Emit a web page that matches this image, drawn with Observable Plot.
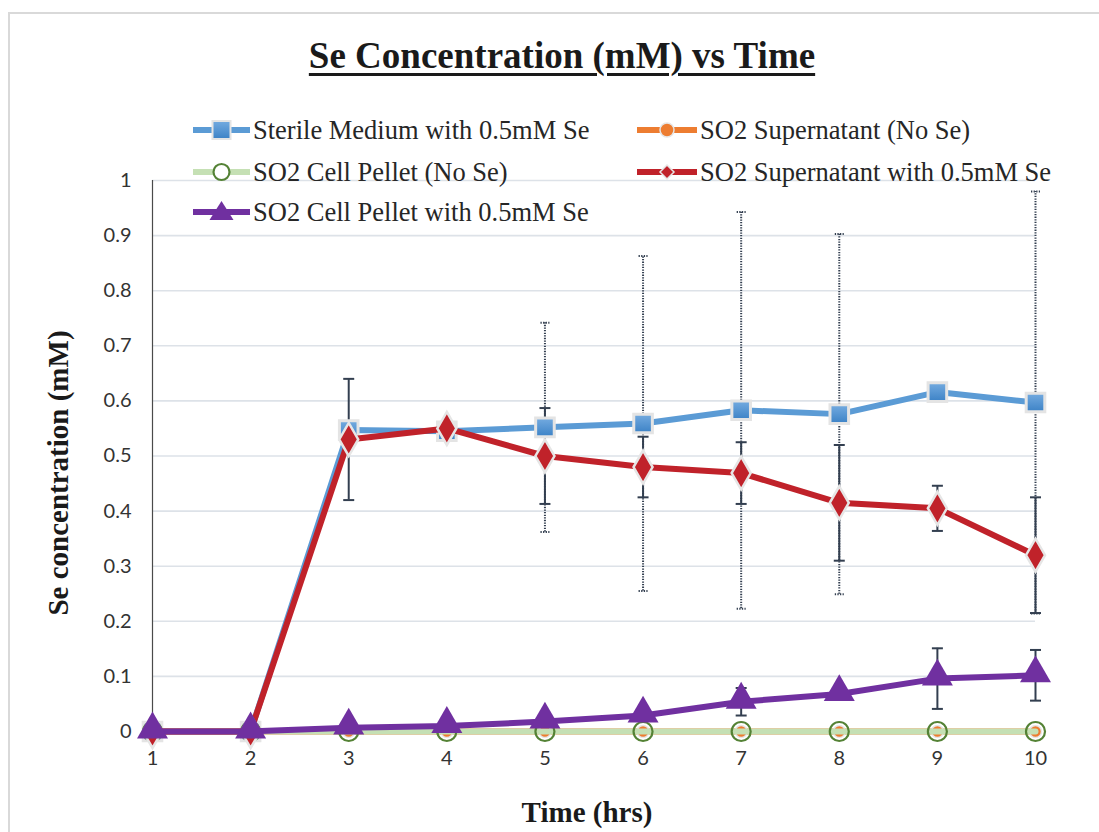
<!DOCTYPE html>
<html>
<head>
<meta charset="utf-8">
<script src="https://cdn.jsdelivr.net/npm/d3@7"></script>
<script src="https://cdn.jsdelivr.net/npm/@observablehq/plot@0.6"></script>
<style>
  html, body { margin: 0; padding: 0; background: #fff; }
  body { width: 1099px; height: 832px; position: relative; overflow: hidden; font-family: "Liberation Serif", serif; }
  #frame { position: absolute; left: 8px; top: 12px; width: 1200px; height: 900px; border-left: 2px solid #d9d9d9; border-top: 2px solid #d9d9d9; box-sizing: border-box; }
  #chart { position: absolute; left: 0; top: 0; }
  #title { position: absolute; left: 0; width: 1124px; top: 34px; text-align: center; font-family: "Liberation Serif", serif; font-weight: bold; font-size: 37px; line-height: 44px; color: #1a1a1a; text-decoration: underline; text-decoration-thickness: 3px; text-underline-offset: 5px; }
  .leg { position: absolute; display: flex; align-items: center; font-family: "Liberation Serif", serif; font-size: 26.5px; color: #262626; white-space: nowrap; }
  .leg svg { margin-right: 3px; }
  .axt { position: absolute; font-family: "Liberation Serif", serif; font-weight: bold; font-size: 29px; line-height: 34px; color: #1a1a1a; white-space: nowrap; }
</style>
</head>
<body>
<svg width="0" height="0" style="position:absolute">
  <defs>
    <linearGradient id="gBlue" x1="0" y1="0" x2="0" y2="1">
      <stop offset="0" stop-color="#74abe0"/>
      <stop offset="1" stop-color="#3c82c6"/>
    </linearGradient>
  </defs>
</svg>
<div id="frame"></div>
<div id="chart"></div>
<div id="title">Se Concentration (mM) vs Time</div>
<div id="legend"></div>
<div class="axt" id="ytitle">Se concentration (mM)</div>
<div class="axt" id="xtitle">Time (hrs)</div>
<script>
// ---- data ----
const hours = [1, 2, 3, 4, 5, 6, 7, 8, 9, 10];
const seriesNames = [
  "Sterile Medium with 0.5mM Se",
  "SO2 Supernatant (No Se)",
  "SO2 Cell Pellet (No Se)",
  "SO2 Supernatant with 0.5mM Se",
  "SO2 Cell Pellet with 0.5mM Se"
];
const sterile    = [0, 0, 0.547, 0.545, 0.552, 0.559, 0.583, 0.576, 0.616, 0.597];
const sterileErr = [null, null, null, null, 0.19, 0.304, 0.36, 0.327, null, 0.383];
const supNoSe    = [0, 0, 0, 0, 0, 0, 0, 0, 0, 0];
const pelNoSe    = [0, 0, 0, 0, 0, 0, 0, 0, 0, 0];
const supSe      = [0, 0, 0.53, 0.55, 0.50, 0.48, 0.469, 0.415, 0.405, 0.32];
const supSeErr   = [null, null, 0.11, null, 0.087, 0.055, 0.056, 0.105, 0.041, 0.105];
const pelSe      = [0, 0, 0.007, 0.01, 0.018, 0.029, 0.054, 0.068, 0.096, 0.102];
const pelSeErr   = [null, null, null, null, null, null, 0.025, null, 0.055, 0.046];
const yTicks = [0, 0.1, 0.2, 0.3, 0.4, 0.5, 0.6, 0.7, 0.8, 0.9, 1];
const xTicks = hours;

// ---- styles ----
const C = {
  blue: "#5b9bd5", orange: "#ed7d31", green: "#c5e0b4", greenMk: "#548235",
  red: "#c0222a", purple: "#7030a0", err: "#333f50"
};

const rows = vals => hours.map((h, i) => ({x: h, y: vals[i]}));
const errRows = (vals, errs) => hours.map((h, i) => errs[i] == null ? null :
  ({x: h, lo: vals[i] - errs[i], hi: vals[i] + errs[i]})).filter(d => d);
const capRows = er => er.flatMap(d => [{x: d.x, y: d.lo}, {x: d.x, y: d.hi}]);
const hcap = w => ({draw(ctx) { ctx.moveTo(-w / 2, 0); ctx.lineTo(w / 2, 0); }});

const eBlue = errRows(sterile, sterileErr);
const eRed = errRows(supSe, supSeErr);
const ePur = errRows(pelSe, pelSeErr);
const eSolid = eRed.concat(ePur);

const W = 1099, H = 832;
const chart = Plot.plot({
  width: W, height: H,
  marginLeft: 152, marginRight: 64, marginTop: 180, marginBottom: 101,
  x: {domain: [1, 10], ticks: xTicks, tickSize: 0, tickPadding: 19, tickFormat: d => String(d), label: null},
  y: {domain: [0, 1], ticks: yTicks, tickSize: 0, tickPadding: 21, tickFormat: d => d === 0 ? "0" : d === 1 ? "1" : d.toFixed(1), label: null},
  style: {fontFamily: "Lato, 'Open Sans', sans-serif", fontSize: "20px", color: "#333333", background: "transparent", overflow: "visible"},
  marks: [
    Plot.ruleY(yTicks, {stroke: "#dde2e8", strokeWidth: 1.6}),
    Plot.ruleX([xTicks[0]], {y1: yTicks[0], y2: yTicks[yTicks.length - 1], stroke: "#4a4a4a", strokeWidth: 1.2}),
    // dotted error bars (sterile medium)
    Plot.ruleX(eBlue, {x: "x", y1: "lo", y2: "hi", stroke: C.err, strokeWidth: 2, strokeDasharray: "1.3,1.3"}),
    Plot.dot(capRows(eBlue), {x: "x", y: "y", symbol: hcap(9), stroke: C.err, strokeWidth: 2, strokeDasharray: "1.3,1.3", r: 3}),
    // solid error bars
    Plot.ruleX(eSolid, {x: "x", y1: "lo", y2: "hi", stroke: C.err, strokeWidth: 2}),
    Plot.dot(capRows(eSolid), {x: "x", y: "y", symbol: hcap(11), stroke: C.err, strokeWidth: 2, r: 3}),
    // series 1: sterile
    Plot.line(rows(sterile), {x: "x", y: "y", stroke: C.blue, strokeWidth: 6, strokeLinejoin: "round"}),
    Plot.dot(rows(sterile), {x: "x", y: "y", symbol: "square", r: 10.5, fill: "url(#gBlue)", stroke: "#e4e4e4", strokeWidth: 3}),
    // series 2: supernatant no Se
    Plot.line(rows(supNoSe), {x: "x", y: "y", stroke: C.orange, strokeWidth: 6}),
    Plot.dot(rows(supNoSe), {x: "x", y: "y", r: 6, fill: C.orange, stroke: "#e6e6e6", strokeWidth: 1.5}),
    // series 3: cell pellet no Se
    Plot.line(rows(pelNoSe), {x: "x", y: "y", stroke: C.green, strokeWidth: 6}),
    Plot.dot(rows(pelNoSe), {x: "x", y: "y", r: 9.5, fill: "none", stroke: C.greenMk, strokeWidth: 2.2}),
    // series 4: supernatant with Se
    Plot.line(rows(supSe), {x: "x", y: "y", stroke: C.red, strokeWidth: 6, strokeLinejoin: "round"}),
    Plot.dot(rows(supSe), {x: "x", y: "y", symbol: "diamond", r: 10, fill: C.red, stroke: "#e6e6e6", strokeWidth: 2.5}),
    // series 5: cell pellet with Se
    Plot.line(rows(pelSe), {x: "x", y: "y", stroke: C.purple, strokeWidth: 6, strokeLinejoin: "round"}),
    Plot.dot(rows(pelSe), {x: "x", y: "y", symbol: "triangle", r: 11.5, fill: C.purple, dy: -2})
  ]
});
document.getElementById("chart").appendChild(chart);

// ---- legend ----
const legendItems = [
  {name: seriesNames[0], color: C.blue, mk: "square", left: 193, top: 130, lw: 57},
  {name: seriesNames[1], color: C.orange, mk: "circle", left: 637, top: 130, lw: 60},
  {name: seriesNames[2], color: C.green, mk: "ring", left: 193, top: 172, lw: 57},
  {name: seriesNames[3], color: C.red, mk: "diamond", left: 637, top: 172, lw: 60},
  {name: seriesNames[4], color: C.purple, mk: "triangle", left: 193, top: 212, lw: 57}
];
const leg = document.getElementById("legend");
for (const it of legendItems) {
  const w = it.lw, h = 26, cx = w / 2, cy = h / 2;
  let m = "";
  if (it.mk === "square") m = `<rect x="${cx-9}" y="${cy-9}" width="18" height="18" fill="url(#gBlue)" stroke="#e4e4e4" stroke-width="2"/>`;
  if (it.mk === "circle") m = `<circle cx="${cx}" cy="${cy}" r="7" fill="${C.orange}" stroke="#e6e6e6" stroke-width="1.5"/>`;
  if (it.mk === "ring") m = `<circle cx="${cx}" cy="${cy}" r="8" fill="#fff" stroke="${C.greenMk}" stroke-width="2.2"/>`;
  if (it.mk === "diamond") m = `<path d="M${cx},${cy-7}L${cx+7},${cy}L${cx},${cy+7}L${cx-7},${cy}Z" fill="${C.red}" stroke="#e6e6e6" stroke-width="1.5"/>`;
  if (it.mk === "triangle") m = `<path d="M${cx},${cy-11}L${cx+12},${cy+8}L${cx-12},${cy+8}Z" fill="${C.purple}"/>`;
  const div = document.createElement("div");
  div.className = "leg";
  div.style.left = it.left + "px";
  div.style.top = (it.top - 15) + "px";
  div.style.height = "30px";
  div.innerHTML = `<svg width="${w}" height="${h}"><line x1="0" x2="${w}" y1="${cy}" y2="${cy}" stroke="${it.color}" stroke-width="6"/>${m}</svg><span>${it.name}</span>`;
  leg.appendChild(div);
}

// axis titles
const yt = document.getElementById("ytitle");
yt.style.left = "58px"; yt.style.top = "473px";
yt.style.transform = "translate(-50%, -50%) rotate(-90deg)";
const xt = document.getElementById("xtitle");
xt.style.left = "587px"; xt.style.top = "812px";
xt.style.transform = "translate(-50%, -50%)";
</script>
</body>
</html>
